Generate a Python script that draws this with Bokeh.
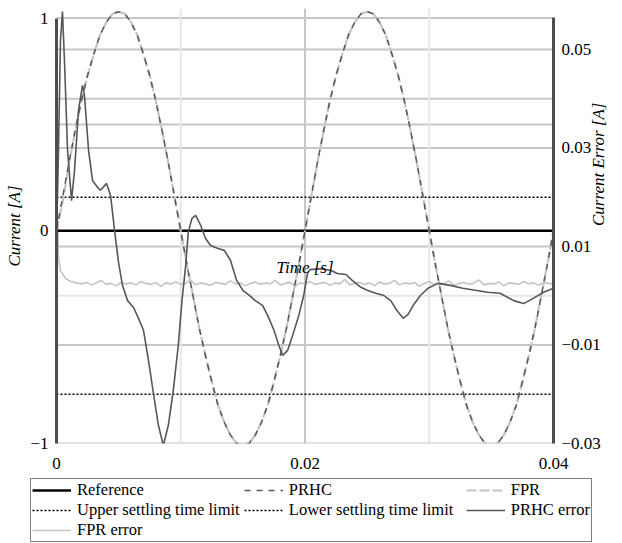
import numpy as np
from math import pi
from bokeh.plotting import figure
from bokeh.layouts import column
from bokeh.models import (Range1d, LinearAxis, FixedTicker, Span, Legend, LegendItem,
                          Label, CustomJSTickFormatter)
from bokeh.embed import file_html
from bokeh.resources import INLINE

# ---------------- data ----------------
time_ticks = [0, 0.02, 0.04]
current_ticks = [-1, 0, 1]
error_ticks = [-0.03, -0.01, 0.01, 0.03, 0.05]

# currents sampled every 0.5 ms (0 .. 40 ms)
sine_time = np.round(np.arange(81) * 0.0005, 6)
prhc = [0.00, 0.16, 0.32, 0.47, 0.61, 0.73, 0.83, 0.92, 0.98, 1.02, 1.03, 1.02, 0.98, 0.92, 0.83, 0.73, 0.61, 0.47, 0.32, 0.16, 0.00,
        -0.16, -0.31, -0.46, -0.59, -0.71, -0.82, -0.90, -0.96, -1.00, -1.01, -1.00, -0.96, -0.90, -0.82, -0.71, -0.59, -0.46, -0.31, -0.16, 0.00,
        0.16, 0.32, 0.47, 0.61, 0.73, 0.83, 0.92, 0.98, 1.02, 1.03, 1.02, 0.98, 0.92, 0.83, 0.73, 0.61, 0.47, 0.32, 0.16, 0.00,
        -0.16, -0.31, -0.46, -0.59, -0.71, -0.82, -0.90, -0.96, -1.00, -1.01, -1.00, -0.96, -0.90, -0.82, -0.71, -0.59, -0.46, -0.31, -0.16, 0.00]
fpr = [0.00, 0.14, 0.31, 0.47, 0.61, 0.73, 0.83, 0.92, 0.98, 1.02, 1.03, 1.02, 0.98, 0.92, 0.83, 0.73, 0.61, 0.47, 0.32, 0.16, 0.00,
       -0.16, -0.31, -0.46, -0.59, -0.71, -0.82, -0.90, -0.96, -1.00, -1.01, -1.00, -0.96, -0.90, -0.82, -0.71, -0.59, -0.46, -0.31, -0.16, 0.00,
       0.16, 0.32, 0.47, 0.61, 0.73, 0.83, 0.92, 0.98, 1.02, 1.03, 1.02, 0.98, 0.92, 0.83, 0.73, 0.61, 0.47, 0.32, 0.16, 0.00,
       -0.16, -0.31, -0.46, -0.59, -0.71, -0.82, -0.90, -0.96, -1.00, -1.01, -1.00, -0.96, -0.90, -0.82, -0.71, -0.59, -0.46, -0.31, -0.16, 0.00]

reference_time = [0, 0.04]
reference = [0, 0]

limit_time = [0, 0.04]
upper_limit = [0.02, 0.02]
lower_limit = [-0.02, -0.02]

prhc_err_time = [0, 0.00016, 0.00032, 0.00048, 0.00064, 0.00089, 0.00121, 0.00145, 0.00177, 0.00209,
                 0.00225, 0.00258, 0.0029, 0.0033, 0.00354, 0.00403, 0.00435, 0.00467, 0.00499, 0.00531,
                 0.00572, 0.0062, 0.0066, 0.007, 0.0074, 0.0078, 0.0082, 0.0086, 0.009, 0.0094,
                 0.0098, 0.0101, 0.0104, 0.0106, 0.0109, 0.0112, 0.0116, 0.012, 0.0124, 0.013,
                 0.0135, 0.014, 0.0145, 0.015, 0.0155, 0.016, 0.0166, 0.0171, 0.0175, 0.0179,
                 0.0182, 0.0186, 0.019, 0.0195, 0.0199, 0.0202, 0.0204, 0.0213, 0.0221, 0.0226,
                 0.0233, 0.0238, 0.0245, 0.025, 0.0257, 0.0263, 0.0269, 0.0274, 0.0279, 0.0283,
                 0.0287, 0.0293, 0.0299, 0.0307, 0.0317, 0.0327, 0.0337, 0.0347, 0.0357, 0.0368,
                 0.0376, 0.0384, 0.0392, 0.04]
prhc_err = [0.0112, 0.0295, 0.0518, 0.0577, 0.0478, 0.0295, 0.0193, 0.0254, 0.0376, 0.0427,
            0.0407, 0.0295, 0.0234, 0.0220, 0.0214, 0.0228, 0.0204, 0.0133, 0.0068, 0.0021,
            -0.0010, -0.0024, -0.0046, -0.0070, -0.0131, -0.0198, -0.0263, -0.0304, -0.0263, -0.0192,
            -0.0101, -0.0010, 0.0062, 0.0128, 0.0157, 0.0163, 0.0143, 0.0116, 0.0102, 0.0096,
            0.0092, 0.0072, 0.0031, 0.0011, 0.0001, -0.0010, -0.0020, -0.0046, -0.0070, -0.0101,
            -0.0121, -0.0111, -0.0081, -0.0040, 0.0001, 0.0045, 0.0053, 0.0055, 0.0051, 0.0045,
            0.0043, 0.0031, 0.0017, 0.0011, 0.0005, 0.0001, -0.0010, -0.0030, -0.0046, -0.0038,
            -0.0020, 0.0001, 0.0015, 0.0025, 0.0021, 0.0015, 0.0011, 0.0007, 0.0005, -0.0010,
            -0.0016, -0.0005, 0.0007, 0.0015]

fpr_err_start_time = [0, 0.00008, 0.00016, 0.00032, 0.00072, 0.00113, 0.0016]
fpr_err_start = [0.0175, 0.0159, 0.0078, 0.0051, 0.0035, 0.0029, 0.0026]
fpr_err_noise = [0.0024, 0.0027, 0.0022, 0.0026, 0.0031, 0.0023, 0.0025, 0.0020, 0.0027, 0.0024,
                 0.0026, 0.0022, 0.0029, 0.0025, 0.0023, 0.0027, 0.0019, 0.0026, 0.0024, 0.0028,
                 0.0023, 0.0025, 0.0032, 0.0022, 0.0026, 0.0024, 0.0021, 0.0027, 0.0025, 0.0023,
                 0.0030, 0.0024, 0.0026, 0.0020, 0.0025, 0.0028, 0.0023, 0.0026, 0.0024, 0.0031,
                 0.0022, 0.0025, 0.0027, 0.0019, 0.0026, 0.0024, 0.0029, 0.0023, 0.0025, 0.0027,
                 0.0021, 0.0026, 0.0024, 0.0033, 0.0022, 0.0025, 0.0027, 0.0023, 0.0026, 0.0020,
                 0.0028, 0.0024, 0.0025, 0.0031, 0.0022, 0.0026, 0.0024, 0.0027, 0.0019, 0.0025,
                 0.0029, 0.0023, 0.0026, 0.0024, 0.0030, 0.0021, 0.0025, 0.0027, 0.0023, 0.0026,
                 0.0032, 0.0022, 0.0025, 0.0024, 0.0028, 0.0020, 0.0026, 0.0025, 0.0023, 0.0029,
                 0.0024, 0.0026, 0.0021, 0.0027, 0.0025, 0.0024]
fpr_err_time = fpr_err_start_time + list(np.round(0.002 + 0.0004 * np.arange(len(fpr_err_noise)), 6))
fpr_err = fpr_err_start + fpr_err_noise

legend_labels = ["Reference", "PRHC", "FPR",
                 "Upper settling time limit", "Lower settling time limit", "PRHC error",
                 "FPR error"]

# ---------------- styles ----------------
FONT = "Liberation Serif"
DARK = "#575757"
LIGHT = "#c4c4c4"
STYLES = [
    dict(line_color="black", line_width=2.5),                       # Reference
    dict(line_color=DARK, line_width=1.5, line_dash="6 6"),          # PRHC
    dict(line_color=LIGHT, line_width=2.2, line_dash="10 3"),        # FPR
    dict(line_color="black", line_width=1.6, line_dash="2 2"),       # Upper
    dict(line_color="black", line_width=1.6, line_dash="2 2"),       # Lower
    dict(line_color=DARK, line_width=1.6),                           # PRHC error
    dict(line_color=LIGHT, line_width=1.6),                          # FPR error
]

# ---------------- main figure ----------------
p = figure(width=622, height=478, output_backend="svg", toolbar_location=None,
           x_range=Range1d(0, 0.04), y_range=Range1d(-1, 1.045),
           min_border_left=56, min_border_right=69, min_border_top=8, min_border_bottom=35)
p.extra_y_ranges = {"err": Range1d(-0.03, 0.0583)}
p.outline_line_color = None
p.grid.visible = False
p.background_fill_color = "white"

minus_fmt = "return String(tick).replace('-', '\u2212');"

grid_medium = "#c6c6c6"
grid_light = "#e6e6e6"
for v in [1, 0.5]:
    p.add_layout(Span(location=v, dimension="width", line_color=grid_medium, line_width=2, level="underlay"))
for v in [0.05, 0.04, 0.03, 0.01, -0.01, -0.03]:
    p.add_layout(Span(location=v, dimension="width", y_range_name="err", line_color=grid_medium, line_width=2, level="underlay"))
p.add_layout(Span(location=0.0, dimension="width", y_range_name="err", line_color=grid_light, line_width=2, level="underlay"))
p.add_layout(Span(location=0.02, dimension="height", line_color=grid_medium, line_width=2, level="underlay"))
for v in [0.01, 0.03]:
    p.add_layout(Span(location=v, dimension="height", line_color=grid_light, line_width=2, level="underlay"))


def style_axis(ax, standoff):
    ax.major_tick_line_color = None
    ax.minor_tick_line_color = None
    ax.major_tick_out = 0
    ax.major_tick_in = 0
    ax.minor_tick_out = 0
    ax.minor_tick_in = 0
    ax.major_label_standoff = standoff
    ax.major_label_text_font = FONT
    ax.major_label_text_font_size = "17px"
    ax.major_label_text_color = "black"
    ax.axis_label_text_font = FONT
    ax.axis_label_text_font_style = "italic"
    ax.axis_label_text_font_size = "17px"
    ax.axis_label_text_color = "black"


xa = p.xaxis[0]
xa.ticker = FixedTicker(ticks=time_ticks)
xa.formatter = CustomJSTickFormatter(code=minus_fmt)
xa.axis_line_color = None
style_axis(xa, 14)

ya = p.yaxis[0]
ya.ticker = FixedTicker(ticks=current_ticks)
ya.formatter = CustomJSTickFormatter(code=minus_fmt)
ya.bounds = (-1, 1)
ya.axis_line_color = "#4d4d4d"
ya.axis_line_width = 3
style_axis(ya, 8)
ya.axis_label = "Current [A]"
ya.axis_label_standoff = 3

ra = LinearAxis(y_range_name="err", ticker=FixedTicker(ticks=error_ticks),
                formatter=CustomJSTickFormatter(code=minus_fmt), bounds=(-0.03, 0.0565))
ra.axis_line_color = "#4d4d4d"
ra.axis_line_width = 3
style_axis(ra, 8)
ra.axis_label = "Current Error [A]"
ra.axis_label_standoff = -5
if "axis_label_orientation" in ra.properties():
    ra.axis_label_orientation = pi / 2
p.add_layout(ra, "right")

r_fpr_err = p.line(fpr_err_time, fpr_err, y_range_name="err", **STYLES[6])
r_ref = p.line(reference_time, reference, **STYLES[0])
r_up = p.line(limit_time, upper_limit, y_range_name="err", **STYLES[3])
r_lo = p.line(limit_time, lower_limit, y_range_name="err", **STYLES[4])
r_fpr = p.line(sine_time, fpr, **STYLES[2])
r_prhc = p.line(sine_time, prhc, **STYLES[1])
r_prhc_err = p.line(prhc_err_time, prhc_err, y_range_name="err", **STYLES[5])

p.add_layout(Label(x=0.02, y=-0.173, text="Time [s]", text_color="black",
                   text_font=FONT, text_font_style="italic", text_font_size="17px",
                   text_align="center", text_baseline="middle"))

# ---------------- legend figure ----------------
lg = figure(width=622, height=65, output_backend="svg", toolbar_location=None,
            x_range=Range1d(0, 1), y_range=Range1d(0, 1),
            x_axis_location=None, y_axis_location=None,
            min_border_left=0, min_border_right=0, min_border_top=0, min_border_bottom=0)
if "frame_align" in lg.properties():
    lg.frame_align = False
lg.outline_line_color = None
lg.grid.visible = False
pad = ["", "", "", "\u00a0", "\u00a0\u00a0\u00a0", "", ""]
items = []
for lab, st, extra in zip(legend_labels, STYLES, pad):
    # sample renderer placed outside the visible range: only its legend glyph shows
    r = lg.line([-3, -2], [-3, -2], **st)
    items.append(LegendItem(label=lab + extra, renderers=[r]))
legend = Legend(items=items, orientation="horizontal", ncols=3, location=(30, 1))
legend.label_text_font = FONT
legend.label_text_font_size = "16.5px"
legend.label_text_color = "black"
legend.glyph_width = 39
legend.glyph_height = 14
legend.label_height = 14
legend.label_standoff = 6
legend.spacing = 0
legend.padding = 1
legend.margin = 0
legend.border_line_color = "black"
legend.border_line_width = 1
legend.background_fill_color = "white"
legend.background_fill_alpha = 1
lg.add_layout(legend, "center")

layout = column(p, lg, spacing=0)
open("out.html", "w").write(file_html(layout, INLINE))
